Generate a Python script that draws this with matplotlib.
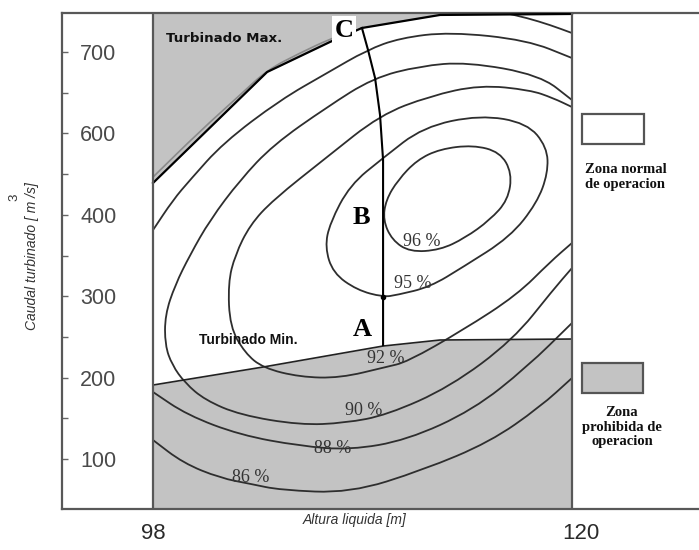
import matplotlib
matplotlib.use("Agg")
import matplotlib.pyplot as plt
import matplotlib.transforms as mtransforms
from matplotlib.patches import Rectangle, PathPatch
from matplotlib.path import Path

# ---- operating limits of the unit (head [m], flow [m3/s]) ----
max_head = [98.0, 103.99, 107.29, 108.97, 113.07, 120.0]
max_flow = [439.1, 575.4, 612.3, 629.5, 645.5, 646.7]
min_head = [98.0, 103.78, 110.08, 113.07, 120.0]
min_flow = [190.9, 213.0, 238.8, 246.2, 247.4]

# ---- operating path A -> B -> C ----
path_head = [110.08, 110.08, 110.08, 109.92, 109.66, 109.29, 108.97]
path_flow = [240.0, 396.1, 467.3, 522.6, 568.0, 602.5, 629.5]

# ---- efficiency iso-lines ----
eff96_head = [114.80, 116.22, 116.85, 116.64, 115.69, 114.38, 113.07, 111.49, 110.55,
              110.08, 110.23, 110.86, 111.86, 113.07]
eff96_flow = [485.7, 477.1, 451.3, 418.2, 393.6, 371.5, 356.8, 354.3, 369.0,
              393.6, 418.2, 442.7, 467.3, 480.8]

eff95_head = [115.17, 117.64, 118.69, 118.74, 118.16, 116.75, 114.28, 112.54, 110.81,
              110.08, 108.71, 107.45, 107.03, 107.29, 108.34, 110.08, 112.18]
eff95_flow = [522.6, 512.8, 483.3, 451.3, 414.5, 372.7, 335.9, 311.3, 301.5,
              299.0, 307.6, 328.5, 360.4, 389.9, 436.6, 469.8, 507.9]

eff92_head = [120.00, 119.00, 117.80, 115.17, 112.54, 109.92, 107.14, 104.30, 103.09,
              102.31, 101.94, 102.04, 102.83, 103.78, 105.72, 107.82, 110.23, 111.34,
              114.28, 117.11, 118.85, 120.00]
eff92_flow = [532.4, 543.5, 553.3, 559.5, 545.9, 522.6, 471.0, 418.2, 387.5,
              350.6, 316.2, 262.2, 230.2, 211.8, 200.7, 199.5, 213.0, 219.2,
              258.5, 301.5, 342.0, 365.4]

eff90_head = [120.00, 118.32, 114.49, 112.02, 109.55, 107.14, 104.30, 102.57, 100.99,
              99.94, 99.16, 98.63, 98.63, 99.00, 99.68, 100.73, 102.57, 105.72,
              108.08, 110.29, 113.59, 116.90, 119.00, 120.00]
eff90_flow = [541.0, 571.7, 587.7, 582.8, 568.0, 532.4, 485.7, 442.7, 393.6,
              350.6, 313.8, 276.9, 240.0, 215.5, 193.4, 172.5, 154.1, 141.8,
              144.2, 154.1, 188.5, 246.2, 307.6, 334.6]

eff88_up_head = [120.00, 117.64, 113.59, 110.97, 109.24, 107.14, 104.67, 101.68, 99.94,
                 99.05, 98.00]
eff88_up_flow = [592.6, 614.7, 624.6, 617.2, 602.5, 574.2, 541.0, 488.2, 442.7,
                 418.2, 381.3]
eff88_lo_head = [98.00, 99.79, 102.57, 105.72, 108.34, 111.34, 114.80, 117.64, 120.00]
eff88_lo_flow = [182.3, 154.1, 129.5, 116.0, 111.1, 123.3, 160.2, 213.0, 267.1]

eff86_up_head = [98.00, 100.47, 102.57, 103.99, 105.72, 107.29, 108.40]
eff86_up_flow = [446.4, 502.9, 547.2, 577.9, 598.8, 616.0, 625.0]
eff86_tr_head = [116.48, 117.64, 118.85, 120.00]
eff86_tr_flow = [648.0, 641.8, 633.2, 623.3]
eff86_lo_head = [98.00, 99.58, 101.52, 103.15, 104.67, 108.34, 112.18, 115.69, 118.32, 120.00]
eff86_lo_flow = [123.3, 95.1, 76.7, 69.3, 61.9, 58.2, 86.5, 120.9, 163.9, 199.5]

# label text and anchor for each iso-line
eff_labels = ["96 %", "95 %", "92 %", "90 %", "88 %", "86 %"]
eff_label_head = [112.12, 111.65, 110.23, 109.08, 107.45, 103.15]
eff_label_flow = [366.6, 316.0, 224.0, 160.2, 113.5, 77.9]

# axis ticks
ytick_pos = [100, 200, 300, 400, 500, 600]
ytick_text = ["100", "200", "300", "400", "600", "700"]
yminor_pos = [150, 250, 350, 450, 550]
xtick_pos = [98, 120]
xtick_text = ["98", "120"]

HEAD_LIM = (93.22, 126.67)
FLOW_LIM = (38.6, 647.9)
GRAY = "#c3c3c3"
LINE = "#2e2e2e"
FRAME = "#585858"


def smooth_curve(xs, ys, closed=False):
    """Quadratic B-spline style path that uses the given points as control points."""
    pts = list(zip(xs, ys))
    mid = lambda a, b: ((a[0] + b[0]) / 2, (a[1] + b[1]) / 2)
    verts, codes = [], []
    if closed:
        n = len(pts)
        verts.append(mid(pts[-1], pts[0]))
        codes.append(Path.MOVETO)
        for i in range(n):
            verts += [pts[i], mid(pts[i], pts[(i + 1) % n])]
            codes += [Path.CURVE3, Path.CURVE3]
    else:
        verts += [pts[0], mid(pts[0], pts[1])]
        codes += [Path.MOVETO, Path.LINETO]
        for i in range(1, len(pts) - 1):
            verts += [pts[i], mid(pts[i], pts[i + 1])]
            codes += [Path.CURVE3, Path.CURVE3]
        verts.append(pts[-1])
        codes.append(Path.LINETO)
    return Path(verts, codes)


fig = plt.figure(figsize=(6.99, 5.50), dpi=100)
ax = fig.add_axes([62 / 699, 41 / 550, 637 / 699, 496 / 550])
ax.set_xlim(*HEAD_LIM)
ax.set_ylim(*FLOW_LIM)

# forbidden zones
ax.fill_between(max_head, max_flow, FLOW_LIM[1], color=GRAY, lw=0, zorder=1)
ax.fill_between(min_head, FLOW_LIM[0], min_flow, color=GRAY, lw=0, zorder=1)

# iso-efficiency curves
closed_curves = [(eff96_head, eff96_flow), (eff95_head, eff95_flow)]
open_curves = [
    (eff92_head, eff92_flow), (eff90_head, eff90_flow),
    (eff88_up_head, eff88_up_flow), (eff88_lo_head, eff88_lo_flow),
    (eff86_tr_head, eff86_tr_flow), (eff86_lo_head, eff86_lo_flow),
]
for h, q in closed_curves:
    ax.add_patch(PathPatch(smooth_curve(h, q, closed=True), facecolor="none",
                           edgecolor=LINE, lw=1.3, zorder=2))
for h, q in open_curves:
    ax.add_patch(PathPatch(smooth_curve(h, q), facecolor="none",
                           edgecolor=LINE, lw=1.3, zorder=2))
ax.add_patch(PathPatch(smooth_curve(eff86_up_head, eff86_up_flow), facecolor="none",
                       edgecolor="#8a8a8a", lw=1.2, zorder=2))

for txt, h, q in zip(eff_labels, eff_label_head, eff_label_flow):
    ax.text(h, q, txt, family="Liberation Serif", fontsize=13, color="#333333",
            ha="center", va="center", zorder=4)

# limit lines
ax.plot(max_head, max_flow, color="black", lw=1.6, zorder=3)
ax.plot(min_head, min_flow, color="#222222", lw=1.2, zorder=3)

# operating path
ax.plot(path_head, path_flow, color="black", lw=1.5, zorder=3)
ax.plot([path_head[0]], [299.0], "o", color="black", ms=3, zorder=3)

# side walls of the head range
ax.axvline(98, color=FRAME, lw=1.6, zorder=3)
ax.axvline(120, color=FRAME, lw=1.6, zorder=3)

# point letters
serif_bold = dict(family="Liberation Serif", fontweight="bold", fontsize=19,
                  color="black", ha="center", va="center")
ax.text(108.97, 259.7, "A", zorder=5, **serif_bold)
ax.text(108.97, 396.1, "B", zorder=5, **serif_bold)
ax.text(108.03, 627.0, "C", zorder=6,
        bbox=dict(facecolor="white", edgecolor="none", pad=1.5), **serif_bold)

ax.text(101.73, 617.0, "Turbinado Max.", family="DejaVu Sans", fontweight="bold",
        fontsize=9.6, color="#111111", ha="center", va="center", zorder=5)
ax.text(102.99, 246.2, "Turbinado Min.", family="Liberation Sans", fontweight="bold",
        fontsize=10, color="#111111", ha="center", va="center", zorder=5)

# legend on the right
ax.add_patch(Rectangle((0.8163, 0.7359), 0.0973, 0.0605, transform=ax.transAxes,
                       facecolor="white", edgecolor="#555555", lw=1.6, zorder=5,
                       clip_on=False))
ax.add_patch(Rectangle((0.8163, 0.2339), 0.0958, 0.0605, transform=ax.transAxes,
                       facecolor=GRAY, edgecolor="#555555", lw=1.6, zorder=5,
                       clip_on=False))
leg_font = dict(family="Liberation Serif", fontweight="bold", fontsize=10.5,
                color="#111111", transform=ax.transAxes, zorder=5)
ax.text(0.821, 0.669, "Zona normal\nde operacion", ha="left", va="center",
        multialignment="left", linespacing=1.15, **leg_font)
ax.text(0.879, 0.165, "Zona\nprohibida de\noperacion", ha="center", va="center",
        multialignment="center", linespacing=1.15, **leg_font)

# frame and ticks
for side in ("left", "top", "bottom"):
    ax.spines[side].set_color(FRAME)
    ax.spines[side].set_linewidth(1.6)
ax.spines["right"].set_visible(False)

ax.set_yticks(ytick_pos)
ax.set_yticklabels(ytick_text, ha="left")
ax.set_yticks(yminor_pos, minor=True)
ax.tick_params(axis="y", which="both", direction="in", length=4.3, width=1,
               color="#666666", pad=-13, labelsize=15.5, labelcolor="#4a4a4a")
for lbl in ax.get_yticklabels():
    lbl.set_family("Liberation Sans")

ax.set_xticks(xtick_pos)
ax.set_xticklabels(xtick_text)
ax.tick_params(axis="x", length=0, pad=10, labelsize=16, labelcolor="#2a2a2a")
for lbl in ax.get_xticklabels():
    lbl.set_family("Liberation Sans")
xl = ax.get_xticklabels()[1]
xl.set_transform(xl.get_transform()
                 + mtransforms.ScaledTranslation(9 / 100, 0, fig.dpi_scale_trans))

# axis titles
fig.text(355 / 699, 1 - 520 / 550, "Altura liquida [m]", family="Liberation Sans",
         style="italic", fontsize=10, color="#333333", ha="center", va="center")
fig.text(32 / 699, 1 - 256 / 550, "Caudal turbinado [ m /s]", family="Liberation Sans",
         style="italic", fontsize=10, color="#333333", ha="center", va="center",
         rotation=90)
fig.text(14 / 699, 1 - 197 / 550, "3", family="Liberation Sans", fontsize=9.5,
         color="#333333", ha="center", va="center", rotation=90)

fig.savefig("out.png", dpi=100)
